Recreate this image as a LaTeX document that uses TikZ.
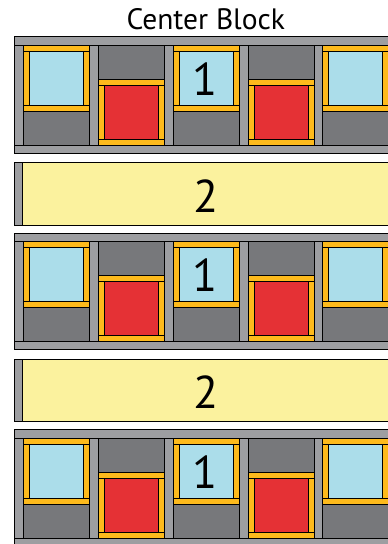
\documentclass[tikz,border=0pt]{standalone}
\usepackage{fontspec}
\setmainfont{PT Sans}
\definecolor{sash}{HTML}{9D9EA1}
\definecolor{dgray}{HTML}{77787B}
\definecolor{fyellow}{HTML}{FDBA1C}
\definecolor{lblue}{HTML}{ABDDEA}
\definecolor{cred}{HTML}{E53135}
\definecolor{pale}{HTML}{FBF29E}
\tikzset{
  piece/.style={draw=black, line width=0.9pt, line join=miter},
  titletext/.style={font=\fontsize{29.5}{31}\selectfont, anchor=base, inner sep=0pt},
  numtext/.style={font=\fontsize{46}{48}\selectfont, anchor=base, inner sep=0pt},
}
\begin{document}
\begin{tikzpicture}[x=1pt,y=-1pt]
\useasboundingbox (0,0) rectangle (388,544);
\clip (0,0) rectangle (388,544);
\node[titletext] (title) at (205.8,29.5) {Center Block};
% pieced blocks
\foreach \T [count=\b] in {36.7,233.3,429.9}{
  \fill[sash] (14.3,\T) rectangle (400,\T+116.6);
  \draw[piece] (14.3,\T) rectangle (400,\T+116.6);
  \draw[piece] (14.3,\T+8.3) -- (400,\T+8.3);
  \draw[piece] (14.3,\T+108.3) -- (400,\T+108.3);
  \foreach \i in {0,...,4}{
    \pgfmathsetmacro{\xo}{23.3+74.9*\i}
    \pgfmathtruncatemacro{\odd}{mod(\i,2)}
    \ifnum\odd=0
      \pgfmathsetmacro{\yo}{\T+8.3}
      \def\inner{lblue}
    \else
      \pgfmathsetmacro{\yo}{\T+42.3}
      \def\inner{cred}
    \fi
    \draw[piece, fill=dgray] (\xo,\T+8.3) rectangle (\xo+66,\T+108.3);
    \draw[piece, fill=fyellow] (\xo,\yo) rectangle (\xo+66,\yo+66);
    \draw[piece] (\xo,\yo+6) -- (\xo+66,\yo+6);
    \draw[piece] (\xo,\yo+60) -- (\xo+66,\yo+60);
    \draw[piece, fill=\inner] (\xo+6,\yo+6) rectangle (\xo+60,\yo+60);
  }
  \node[numtext] (one\b) at (205.5,\T+58.3) {1};
}
% plain bands
\foreach \T [count=\b] in {162.7,359.3}{
  \draw[piece, fill=sash] (14.3,\T) rectangle (22.7,\T+62.3);
  \draw[piece, fill=pale] (22.7,\T) rectangle (400,\T+62.3);
  \node[numtext] (two\b) at (206.3,\T+49.6) {2};
}
\end{tikzpicture}
\end{document}
